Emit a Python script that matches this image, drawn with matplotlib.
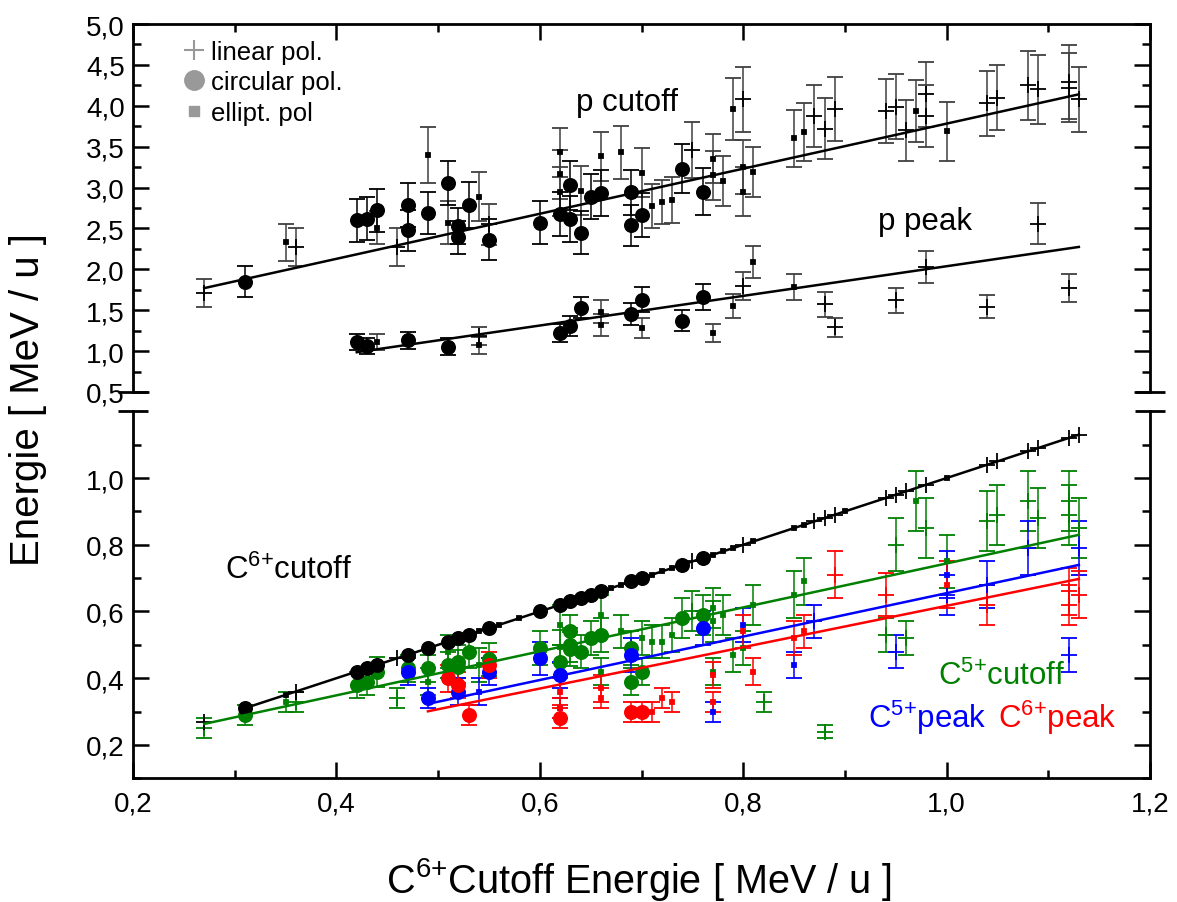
import matplotlib
matplotlib.use("Agg")
import matplotlib.pyplot as plt
from matplotlib.lines import Line2D
from matplotlib.ticker import MultipleLocator, FuncFormatter, FixedLocator

plt.rcParams['font.family'] = ['Liberation Sans', 'DejaVu Sans']
plt.rcParams['mathtext.default'] = 'regular'

# ---- data: (C6+ cutoff energy, energy, error) -------------------------------
# proton cutoff
p_cut_circ = [(0.31, 1.85, 0.19), (0.42, 2.60, 0.26), (0.43, 2.62, 0.26), (0.44, 2.72, 0.26),
              (0.47, 2.79, 0.27), (0.47, 2.48, 0.25), (0.49, 2.69, 0.26), (0.51, 3.06, 0.27),
              (0.52, 2.53, 0.22), (0.52, 2.39, 0.20), (0.53, 2.79, 0.28), (0.55, 2.36, 0.25),
              (0.60, 2.57, 0.26), (0.62, 2.68, 0.27), (0.63, 3.03, 0.30), (0.63, 2.62, 0.28),
              (0.64, 2.45, 0.26), (0.65, 2.89, 0.28), (0.66, 2.93, 0.28), (0.69, 2.94, 0.28),
              (0.69, 2.54, 0.25), (0.70, 2.66, 0.27), (0.74, 3.23, 0.30), (0.76, 2.95, 0.29)]
p_cut_ell = [(0.35, 2.33, 0.23), (0.44, 2.51, 0.20), (0.49, 3.40, 0.34), (0.51, 2.57, 0.26),
             (0.54, 2.89, 0.30), (0.62, 3.43, 0.30), (0.62, 3.16, 0.30), (0.62, 2.95, 0.30),
             (0.64, 2.96, 0.30), (0.66, 3.38, 0.30), (0.68, 3.43, 0.32), (0.70, 3.18, 0.30),
             (0.71, 2.77, 0.27), (0.72, 2.82, 0.27), (0.73, 2.85, 0.28), (0.77, 3.35, 0.30),
             (0.77, 3.15, 0.30), (0.78, 3.08, 0.30), (0.79, 3.96, 0.38), (0.80, 3.25, 0.33),
             (0.80, 2.95, 0.30), (0.81, 3.19, 0.31), (0.85, 3.60, 0.35), (0.86, 3.68, 0.35),
             (0.97, 3.94, 0.38), (1.00, 3.69, 0.36)]
p_cut_lin = [(0.27, 1.71, 0.17), (0.36, 2.27, 0.23), (0.46, 2.27, 0.23), (0.55, 2.55, 0.25),
             (0.75, 3.46, 0.34), (0.80, 4.08, 0.40), (0.87, 3.87, 0.38), (0.88, 3.72, 0.37),
             (0.89, 3.96, 0.39), (0.94, 3.94, 0.39), (0.95, 3.99, 0.40), (0.96, 3.70, 0.37),
             (0.98, 4.14, 0.40), (0.98, 3.87, 0.38), (1.04, 4.03, 0.40), (1.05, 4.10, 0.40),
             (1.08, 4.25, 0.42), (1.09, 4.20, 0.42), (1.12, 4.29, 0.45), (1.12, 4.22, 0.42),
             (1.13, 4.08, 0.40)]

# proton peak
p_peak_circ = [(0.42, 1.11, 0.10), (0.43, 1.06, 0.10), (0.47, 1.13, 0.10), (0.51, 1.055, 0.10),
               (0.62, 1.22, 0.11), (0.63, 1.31, 0.12), (0.64, 1.53, 0.13), (0.69, 1.455, 0.13),
               (0.70, 1.63, 0.15), (0.74, 1.37, 0.13), (0.76, 1.66, 0.16)]
p_peak_ell = [(0.44, 1.11, 0.10), (0.54, 1.07, 0.10), (0.66, 1.48, 0.14), (0.66, 1.32, 0.13),
              (0.70, 1.28, 0.12), (0.77, 1.22, 0.11), (0.79, 1.55, 0.15), (0.81, 2.09, 0.20),
              (0.85, 1.78, 0.16)]
p_peak_lin = [(0.54, 1.19, 0.11), (0.80, 1.80, 0.17), (0.88, 1.57, 0.15), (0.89, 1.29, 0.12),
              (0.95, 1.62, 0.15), (0.98, 2.03, 0.20), (1.04, 1.54, 0.14), (1.09, 2.56, 0.25),
              (1.12, 1.77, 0.17)]

# C6+ cutoff (lies on the diagonal by definition)
c6_cut_circ = [(0.31, 0.31, 0.0), (0.42, 0.42, 0.0), (0.43, 0.43, 0.0), (0.44, 0.44, 0.0),
               (0.47, 0.47, 0.0), (0.49, 0.49, 0.0), (0.51, 0.51, 0.0), (0.52, 0.52, 0.0),
               (0.53, 0.53, 0.0), (0.55, 0.55, 0.0), (0.60, 0.60, 0.0), (0.62, 0.62, 0.0),
               (0.63, 0.63, 0.0), (0.64, 0.64, 0.0), (0.65, 0.65, 0.0), (0.66, 0.66, 0.0),
               (0.69, 0.69, 0.0), (0.70, 0.70, 0.0), (0.74, 0.74, 0.0), (0.76, 0.76, 0.0)]
c6_cut_ell = [(0.35, 0.35, 0.0), (0.44, 0.44, 0.0), (0.54, 0.54, 0.0), (0.56, 0.56, 0.0),
              (0.58, 0.58, 0.0), (0.67, 0.67, 0.0), (0.68, 0.68, 0.0), (0.71, 0.71, 0.0),
              (0.72, 0.72, 0.0), (0.73, 0.73, 0.0), (0.77, 0.77, 0.0), (0.78, 0.78, 0.0),
              (0.79, 0.79, 0.0), (0.81, 0.81, 0.0), (0.85, 0.85, 0.0), (0.86, 0.86, 0.0),
              (0.90, 0.90, 0.0), (1.00, 1.00, 0.0)]
c6_cut_lin = [(0.27, 0.27, 0.0), (0.36, 0.36, 0.0), (0.46, 0.46, 0.0), (0.75, 0.75, 0.0),
              (0.80, 0.80, 0.0), (0.87, 0.87, 0.0), (0.88, 0.88, 0.0), (0.89, 0.89, 0.0),
              (0.94, 0.94, 0.0), (0.95, 0.95, 0.0), (0.96, 0.96, 0.0), (0.98, 0.98, 0.0),
              (1.04, 1.04, 0.0), (1.05, 1.05, 0.0), (1.08, 1.08, 0.0), (1.09, 1.09, 0.0),
              (1.12, 1.12, 0.0), (1.13, 1.13, 0.0)]

# C5+ cutoff
c5_cut_circ = [(0.31, 0.29, 0.03), (0.42, 0.38, 0.04), (0.43, 0.39, 0.04), (0.44, 0.42, 0.045),
               (0.47, 0.43, 0.04), (0.49, 0.43, 0.04), (0.51, 0.44, 0.04), (0.52, 0.45, 0.05),
               (0.52, 0.435, 0.05), (0.53, 0.48, 0.05), (0.55, 0.457, 0.05), (0.60, 0.49, 0.05),
               (0.62, 0.45, 0.05), (0.63, 0.54, 0.05), (0.63, 0.50, 0.05), (0.63, 0.487, 0.05),
               (0.64, 0.48, 0.05), (0.65, 0.52, 0.05), (0.66, 0.53, 0.05), (0.69, 0.49, 0.05),
               (0.69, 0.39, 0.04), (0.70, 0.42, 0.04), (0.74, 0.58, 0.06), (0.76, 0.59, 0.06)]
c5_cut_ell = [(0.35, 0.33, 0.03), (0.49, 0.39, 0.04), (0.51, 0.48, 0.05), (0.54, 0.44, 0.05),
              (0.62, 0.56, 0.06), (0.62, 0.495, 0.05), (0.66, 0.59, 0.06), (0.66, 0.42, 0.04),
              (0.68, 0.54, 0.05), (0.70, 0.52, 0.05), (0.71, 0.51, 0.05), (0.72, 0.51, 0.05),
              (0.73, 0.53, 0.05), (0.77, 0.61, 0.06), (0.77, 0.57, 0.06), (0.77, 0.42, 0.04),
              (0.78, 0.59, 0.06), (0.79, 0.47, 0.05), (0.80, 0.49, 0.05), (0.81, 0.62, 0.06),
              (0.85, 0.65, 0.07), (0.86, 0.69, 0.07), (0.97, 0.93, 0.09), (1.00, 0.75, 0.08)]
c5_cut_lin = [(0.27, 0.25, 0.03), (0.36, 0.33, 0.03), (0.46, 0.34, 0.03), (0.75, 0.60, 0.06),
              (0.82, 0.33, 0.03), (0.88, 0.24, 0.02), (0.94, 0.53, 0.05), (0.95, 0.80, 0.08),
              (0.96, 0.52, 0.05), (0.98, 0.85, 0.09), (1.04, 0.87, 0.09), (1.05, 0.89, 0.09),
              (1.08, 0.93, 0.09), (1.09, 0.88, 0.09), (1.12, 0.93, 0.09), (1.12, 0.89, 0.09),
              (1.13, 0.85, 0.09)]

# C5+ peak
c5_peak_circ = [(0.47, 0.42, 0.04), (0.49, 0.34, 0.03), (0.52, 0.36, 0.04), (0.55, 0.42, 0.04),
                (0.60, 0.46, 0.05), (0.62, 0.41, 0.04), (0.69, 0.47, 0.05), (0.76, 0.55, 0.05)]
c5_peak_ell = [(0.54, 0.36, 0.04), (0.62, 0.31, 0.03), (0.77, 0.30, 0.03), (0.80, 0.56, 0.05),
               (0.85, 0.44, 0.04), (1.00, 0.71, 0.07)]
c5_peak_lin = [(0.87, 0.57, 0.05), (0.95, 0.48, 0.05), (1.00, 0.65, 0.06), (1.04, 0.68, 0.07),
               (1.08, 0.79, 0.08), (1.12, 0.47, 0.05), (1.13, 0.79, 0.08)]

# C6+ peak
c6_peak_circ = [(0.51, 0.40, 0.04), (0.52, 0.38, 0.04), (0.53, 0.29, 0.03), (0.55, 0.44, 0.04),
                (0.62, 0.28, 0.03), (0.69, 0.30, 0.03), (0.70, 0.30, 0.03)]
c6_peak_ell = [(0.62, 0.36, 0.04), (0.62, 0.31, 0.03), (0.66, 0.37, 0.04), (0.66, 0.34, 0.03),
               (0.71, 0.30, 0.03), (0.72, 0.34, 0.03), (0.73, 0.33, 0.03), (0.77, 0.41, 0.04),
               (0.77, 0.33, 0.03), (0.80, 0.54, 0.05), (0.81, 0.42, 0.04), (0.85, 0.52, 0.05),
               (0.86, 0.54, 0.05), (1.00, 0.68, 0.07)]
c6_peak_lin = [(0.89, 0.71, 0.07), (0.94, 0.65, 0.065), (1.04, 0.62, 0.06), (1.12, 0.66, 0.07),
               (1.12, 0.62, 0.06), (1.13, 0.65, 0.07)]

# linear fits: intercept, slope, x start, x end
fit_p_cut = (1.026, 2.756, 0.27, 1.13)
fit_p_peak = (0.225, 1.813, 0.42, 1.13)
fit_c6_cut = (0.0, 1.0, 0.31, 1.13)
fit_c5_cut = (0.085, 0.659, 0.27, 1.13)
fit_c5_peak = (0.004, 0.651, 0.49, 1.13)
fit_c6_peak = (-0.003, 0.62, 0.49, 1.13)

GREEN = '#008000'
BLUE = '#0000ff'
RED = '#ff0000'
MARK = {'lin': ('+', 12), 'circ': ('o', 9.5), 'ell': ('s', 3.3)}


def comma(v, pos=None):
    return f"{v:.1f}".replace('.', ',')


def draw(ax, pts, kind, color, ecolor, cap=5.5):
    x, y, e = zip(*pts)
    m, ms = MARK[kind]
    ax.errorbar(x, y, yerr=e, fmt=m, ms=ms, color=color, mec=color, mfc=color, mew=1.3,
                ecolor=ecolor, elinewidth=1.1, capsize=cap, capthick=1.1, zorder=3)


def draw_fit(ax, fit, color):
    b, m, x0, x1 = fit
    ax.plot([x0, x1], [b + m * x0, b + m * x1], color=color, lw=1.8, zorder=4)


fig = plt.figure(figsize=(11.77, 9.03), dpi=100)
ax_up = fig.add_axes([0.1130, 0.5648, 0.8641, 0.4075])
ax_lo = fig.add_axes([0.1130, 0.1370, 0.8641, 0.4064], sharex=ax_up)

# upper part: protons
draw(ax_up, p_cut_lin, 'lin', 'k', '#404040')
draw(ax_up, p_cut_ell, 'ell', 'k', '#404040')
draw(ax_up, p_cut_circ, 'circ', 'k', 'k')
draw(ax_up, p_peak_lin, 'lin', 'k', '#404040')
draw(ax_up, p_peak_ell, 'ell', 'k', '#404040')
draw(ax_up, p_peak_circ, 'circ', 'k', 'k')
draw_fit(ax_up, fit_p_cut, 'k')
draw_fit(ax_up, fit_p_peak, 'k')

# lower part: carbon
for pts, kind in [(c5_cut_lin, 'lin'), (c5_cut_ell, 'ell'), (c5_cut_circ, 'circ')]:
    draw(ax_lo, pts, kind, GREEN, GREEN)
for pts, kind in [(c5_peak_lin, 'lin'), (c5_peak_ell, 'ell'), (c5_peak_circ, 'circ')]:
    draw(ax_lo, pts, kind, BLUE, BLUE)
for pts, kind in [(c6_peak_lin, 'lin'), (c6_peak_ell, 'ell'), (c6_peak_circ, 'circ')]:
    draw(ax_lo, pts, kind, RED, RED)
for pts, kind in [(c6_cut_lin, 'lin'), (c6_cut_ell, 'ell'), (c6_cut_circ, 'circ')]:
    draw(ax_lo, pts, kind, 'k', 'k', cap=0)
draw_fit(ax_lo, fit_c6_cut, 'k')
draw_fit(ax_lo, fit_c5_cut, GREEN)
draw_fit(ax_lo, fit_c5_peak, BLUE)
draw_fit(ax_lo, fit_c6_peak, RED)

# axes, ticks, broken axis
ax_up.set_xlim(0.2, 1.2)
ax_up.set_ylim(0.5, 5.0)
ax_lo.set_ylim(0.1, 1.2)

for ax in (ax_up, ax_lo):
    for s in ax.spines.values():
        s.set_linewidth(2.0)
    ax.tick_params(which='both', direction='in', width=1.8, labelsize=20, left=True, right=True)
    ax.tick_params(which='major', length=11.5, pad=6)
    ax.tick_params(which='minor', length=6)
    ax.xaxis.set_major_locator(MultipleLocator(0.2))
    ax.xaxis.set_minor_locator(MultipleLocator(0.1))
    ax.yaxis.set_major_formatter(FuncFormatter(comma))

ax_up.spines['bottom'].set_visible(False)
ax_lo.spines['top'].set_visible(False)
ax_up.tick_params(axis='x', which='both', top=True, bottom=False, labelbottom=False)
ax_lo.tick_params(axis='x', which='both', top=False, bottom=True, pad=9)
ax_lo.xaxis.set_major_formatter(FuncFormatter(comma))

ax_up.yaxis.set_major_locator(MultipleLocator(0.5))
ax_up.yaxis.set_minor_locator(MultipleLocator(0.25))
ax_lo.yaxis.set_major_locator(FixedLocator([0.2, 0.4, 0.6, 0.8, 1.0]))
ax_lo.yaxis.set_minor_locator(FixedLocator([0.1, 0.3, 0.5, 0.7, 0.9, 1.1]))

cap = 0.0148
for ax, yy in ((ax_up, 0.0), (ax_lo, 1.0)):
    for xx in (0.0, 1.0):
        ax.plot([xx - cap, xx + cap], [yy, yy], transform=ax.transAxes, color='k',
                lw=2.0, clip_on=False, solid_capstyle='butt')

# labels in the plot
ax_up.text(0.686, 4.05, 'p cutoff', fontsize=22.5, ha='center', va='center')
ax_up.text(0.979, 2.59, 'p peak', fontsize=22.5, ha='center', va='center')
ax_lo.text(0.29, 0.727, 'C$^{6{+}}$cutoff', fontsize=22.5, ha='left', va='center')
ax_lo.text(1.054, 0.41, 'C$^{5{+}}$cutoff', fontsize=22.5, ha='center', va='center', color=GREEN)
ax_lo.text(0.981, 0.284, 'C$^{5{+}}$peak', fontsize=22.5, ha='center', va='center', color=BLUE)
ax_lo.text(1.109, 0.284, 'C$^{6{+}}$peak', fontsize=22.5, ha='center', va='center', color=RED)

handles = [Line2D([], [], ls='none', marker='+', ms=15, mew=1.5, color='#999999'),
           Line2D([], [], ls='none', marker='o', ms=14, color='#999999'),
           Line2D([], [], ls='none', marker='s', ms=7, color='#999999')]
ax_up.legend(handles, ['linear pol.', 'circular pol.', 'ellipt. pol'], loc='upper left',
             bbox_to_anchor=(0.04, 0.985), frameon=False, fontsize=18.5, handlelength=0.8,
             handletextpad=0.25, labelspacing=0.25, borderaxespad=0.0)

fig.text(0.024, 0.557, 'Energie [ MeV / u ]', rotation=90, fontsize=29, ha='center', va='center')
fig.text(0.543, 0.026, 'C$^{6{+}}$Cutoff Energie [ MeV / u ]', fontsize=28.5, ha='center', va='center')

fig.savefig('out.png', dpi=100)
